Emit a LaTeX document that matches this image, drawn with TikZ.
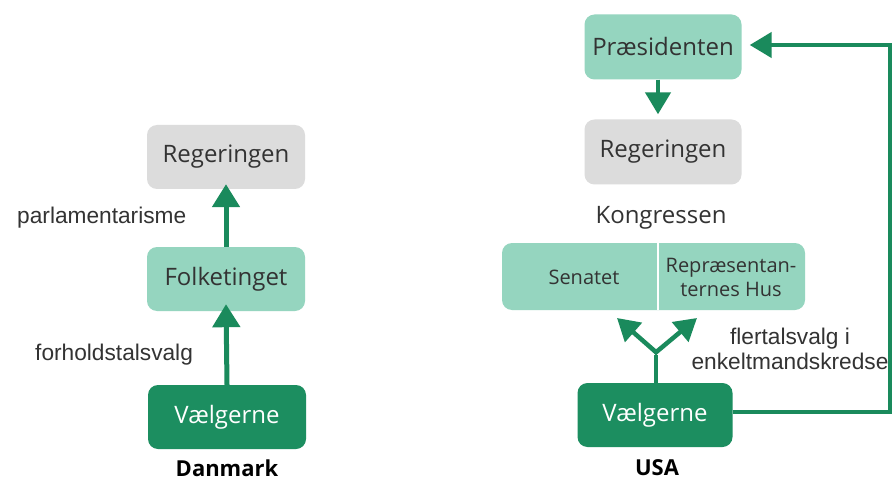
\documentclass[tikz,border=0pt]{standalone}
\usepackage{fontspec}
\usetikzlibrary{arrows.meta}
\newfontfamily\boxfont{Open Sans}
\newfontfamily\lblfont{Liberation Sans}
\definecolor{lightg}{HTML}{95D5BF}
\definecolor{darkg}{HTML}{1C8E60}
\definecolor{grayb}{HTML}{DCDCDC}
\definecolor{arrowg}{HTML}{1A8A5C}
\definecolor{txt}{HTML}{333333}
\tikzset{
  bx/.style={rounded corners=10pt, minimum width=158pt, minimum height=64pt, inner sep=0pt,
    font=\boxfont\fontsize{24}{28}\selectfont, text=txt},
  graybox/.style={bx, fill=grayb},
  lightbox/.style={bx, fill=lightg},
  darkbox/.style={bx, fill=darkg, text=white},
  lbl/.style={font=\lblfont\fontsize{22.7}{26}\selectfont, text=txt, inner sep=0pt},
  ttl/.style={font=\boxfont\bfseries\fontsize{22}{26}\selectfont, text=black, inner sep=0pt},
  arr/.style={draw=arrowg, line width=5pt, -{Triangle[width=27pt,length=23pt]}},
  arrs/.style={draw=arrowg, line width=4.5pt, -{Triangle[width=25pt,length=22pt]}},
}
\begin{document}
\begin{tikzpicture}[x=1pt,y=-1pt]
\useasboundingbox (0,0) rectangle (896,481);
\fill[white] (0,0) rectangle (896,481);
% Danmark
\node[graybox] (dreg) at (226,157) {Regeringen};
\node[lightbox] (folk) at (226,279) {Folketinget};
\node[darkbox] (dvael) at (227,417) {Vælgerne};
\node[ttl] (dk) at (227,468) {Danmark};
\node[lbl, anchor=west] (parl) at (17,218) {parlamentarisme};
\node[lbl, anchor=west] (forh) at (35,355) {forholdstalsvalg};
\draw[arr] (folk.north) -- ([yshift=5pt]dreg.south);
\draw[arr] (dvael.north) -- ([yshift=7pt]folk.south);
% USA
\node[lightbox, minimum width=157pt, minimum height=65pt] (pres) at (663,47) {Præsidenten};
\node[graybox, minimum width=157pt, minimum height=65pt] (ureg) at (663,152) {Regeringen};
\node[lbl, font=\boxfont\fontsize{24}{28}\selectfont] (kongt) at (661,218) {Kongressen};
\node[rounded corners=10pt, fill=lightg, minimum width=303pt, minimum height=67pt, inner sep=0pt] (kong) at (653.5,276.5) {};
\draw[white, line width=2pt] (658,243) -- (658,310);
\node[font=\boxfont\fontsize{20}{23}\selectfont, text=txt, inner sep=0pt] (sen) at (584,277) {Senatet};
\node[font=\boxfont\fontsize{20}{24}\selectfont, text=txt, inner sep=0pt, align=center] (rep) at (731,277) {Repræsentan-\\ternes Hus};
\node[darkbox, minimum width=155pt] (uvael) at (655,415) {Vælgerne};
\node[ttl] (usa) at (657,468) {USA};
\node[lbl, align=center, font=\lblfont\fontsize{22.7}{25}\selectfont] (flert) at (790,349) {flertalsvalg i\\enkeltmandskredse};
\coordinate (fork) at (656,355);
\coordinate (tipS) at (617,318);
\coordinate (tipR) at (697,318);
\draw[draw=arrowg, line width=4.5pt] (uvael.north -| fork) -- (fork);
\draw[arrs] ([shift={(1.5,-1.5)}]fork) -- (tipS);
\draw[arrs] ([shift={(-1.5,-1.5)}]fork) -- (tipR);
\draw[arrs] (pres.south -| 658,0) -- ([yshift=5pt]ureg.north -| 658,0);
\coordinate (cr) at (890,412);
\coordinate (ct) at (890,45);
\draw[draw=arrowg, line width=4.5pt, -{Triangle[width=25pt,length=22pt]}] (uvael.east |- cr) -- (cr) -- (ct) -- ([xshift=8pt]pres.east |- ct);
\end{tikzpicture}
\end{document}
